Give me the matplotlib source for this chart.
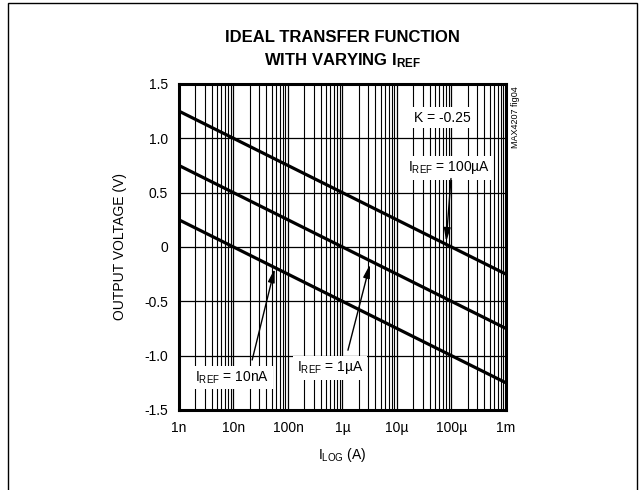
import matplotlib
matplotlib.use("Agg")
import matplotlib.pyplot as plt
from matplotlib.patches import Rectangle
from matplotlib.ticker import FixedLocator, LogLocator, NullFormatter

plt.rcParams.update({
    "font.family": ["Liberation Sans", "DejaVu Sans"],
    "font.size": 10,
    "mathtext.fontset": "custom",
    "mathtext.rm": "Liberation Sans",
    "mathtext.bf": "Liberation Sans:bold",
    "mathtext.default": "regular",
})

# data: ideal transfer lines, output voltage at the two ends of the I_LOG range
i_log_ends = [1e-9, 1e-3]
i_ref_names = ["100µA", "1µA", "10nA"]
v_at_1n = [1.25, 0.75, 0.25]
v_at_1m = [-0.25, -0.75, -1.25]

x_ticks = [1e-9, 1e-8, 1e-7, 1e-6, 1e-5, 1e-4, 1e-3]
x_tick_labels = ["1n", "10n", "100n", "1µ", "10µ", "100µ", "1m"]
y_ticks = [-1.5, -1.0, -0.5, 0, 0.5, 1.0, 1.5]
y_tick_labels = ["-1.5", "-1.0", "-0.5", "0", "0.5", "1.0", "1.5"]

fig = plt.figure(figsize=(6.42, 4.9), dpi=100)
ax = fig.add_axes([0.2788, 0.1633, 0.5093, 0.6653])

for v0, v1 in zip(v_at_1n, v_at_1m):
    ax.plot(i_log_ends, [v0, v1], color="black", lw=2.3, solid_capstyle="butt", zorder=3)

ax.set_xscale("log")
ax.set_xlim(1e-9, 1e-3)
ax.set_ylim(-1.5, 1.5)
ax.xaxis.set_major_locator(FixedLocator(x_ticks))
ax.set_xticklabels(x_tick_labels)
ax.xaxis.set_minor_locator(LogLocator(base=10, subs=range(2, 10), numticks=20))
ax.xaxis.set_minor_formatter(NullFormatter())
ax.set_yticks(y_ticks)
ax.set_yticklabels(y_tick_labels)
ax.tick_params(which="both", length=0, pad=8, labelsize=10)
ax.grid(which="major", axis="both", color="black", lw=0.9)
ax.grid(which="minor", axis="x", color="black", lw=0.8)
for s in ax.spines.values():
    s.set_linewidth(2.2)

ax.set_ylabel("OUTPUT VOLTAGE (V)", fontsize=10, labelpad=12)
ax.set_xlabel("$I_{LOG}$ (A)", fontsize=10, labelpad=8)

fig.text(0.533, 0.924, "IDEAL TRANSFER FUNCTION", ha="center", va="center",
         fontsize=12, fontweight="bold")
fig.text(0.533, 0.877, "WITH VARYING $\\mathbf{I_{REF}}$", ha="center", va="center",
         fontsize=12, fontweight="bold")

box = dict(facecolor="white", edgecolor="none", pad=2.5)
ax.text(6.9e-5, 1.19, "K = -0.25", ha="center", va="center", fontsize=10, bbox=box, zorder=5)

ann = [
    (i_ref_names[0], (8.9e-5, 0.73), (0.98e-4, 0.63), (8.0e-5, 0.05)),
    (i_ref_names[1], (5.9e-7, -1.11), (1.26e-6, -0.95), (3.2e-6, -0.16)),
    (i_ref_names[2], (9.4e-9, -1.20), (2.2e-8, -1.04), (5.7e-8, -0.2)),
]
for name, tpos, tail, tip in ann:
    ax.text(tpos[0], tpos[1], "$I_{REF}$ = " + name, ha="center", va="center",
            fontsize=10, bbox=box, zorder=5)
    ax.annotate("", xy=tip, xytext=tail,
                arrowprops=dict(arrowstyle="-|>,head_length=0.8,head_width=0.2",
                                color="black", lw=1.0, shrinkA=0, shrinkB=0),
                zorder=6)

fig.text(0.803, 0.761, "MAX4207 fig04", rotation=90, ha="center", va="center", fontsize=6.5)

fig.patches.append(Rectangle((8 / 642, -0.02), 629 / 642, 1.0 - 3 / 490 + 0.02,
                             transform=fig.transFigure, fill=False, lw=1.0,
                             edgecolor="black"))

fig.savefig("out.png", dpi=100)
